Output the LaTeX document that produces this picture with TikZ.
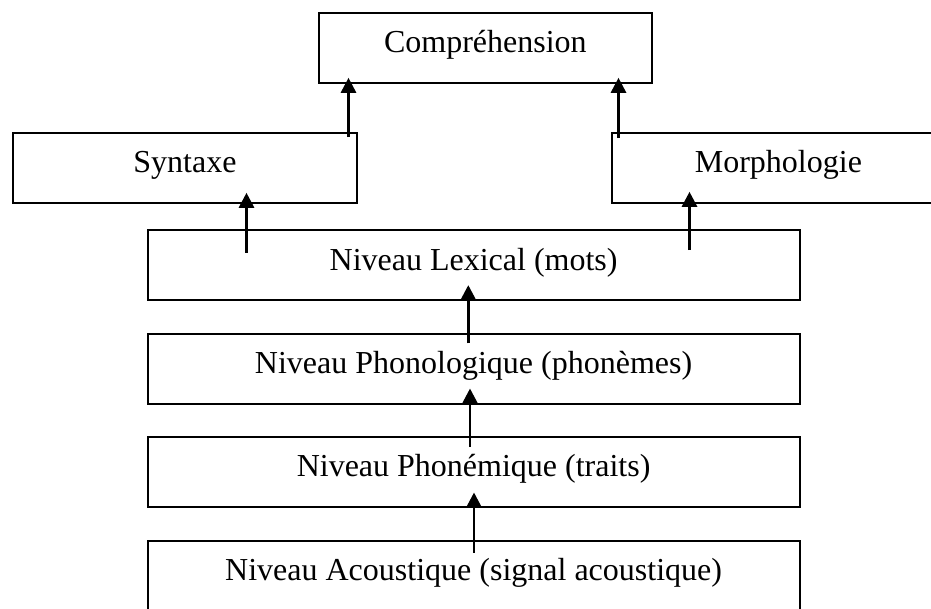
\documentclass[tikz,border=0pt]{standalone}
\usepackage{fontspec}
\setmainfont{Liberation Serif}
\usetikzlibrary{arrows.meta,calc}

\tikzset{
  level/.style={draw, line width=1.8pt, anchor=north west,
    inner xsep=0pt, inner ysep=0pt,
    text height=40pt, text depth=30pt,
    font=\fontsize{32}{38}\selectfont},
  uparrow/.style={line width=2.8pt,
    -{Triangle[width=15pt,length=15pt]}}
}

\begin{document}
\begin{tikzpicture}[x=1pt, y=-1pt]
  \useasboundingbox (0,0) rectangle (931,608);
  \clip (0,0) rectangle (931,608);

  % boxes, top to bottom
  \node[level, minimum width=333pt] (comp)  at (318,12)      {Compréhension};
  \node[level, minimum width=344pt] (syn)   at (12,131.7)    {Syntaxe};
  \node[level, minimum width=333pt] (morph) at (611,131.7)   {Morphologie};
  \node[level, minimum width=652pt] (lex)   at (146.7,229.3) {Niveau Lexical (mots)};
  \node[level, minimum width=652pt] (phon)  at (146.7,332.7) {Niveau Phonologique (phonèmes)};
  \node[level, minimum width=652pt] (phem)  at (146.7,436)   {Niveau Phonémique (traits)};
  \node[level, minimum width=652pt] (acou)  at (146.7,540)   {Niveau Acoustique (signal acoustique)};

  % upward connectors
  \draw[uparrow] ($(syn.north west)+(336.5,5.3)$)   -- ($(comp.south west)+(30.5,-6)$);
  \draw[uparrow] ($(morph.north west)+(7.5,6.3)$)   -- ($(comp.south west)+(300.5,-6)$);
  \draw[uparrow] ($(lex.north west)+(99.8,23.4)$)   -- ($(syn.south west)+(234.5,-10.7)$);
  \draw[uparrow] ($(lex.north west)+(542.8,20.7)$)  -- ($(morph.south west)+(78.5,-11.7)$);
  \draw[uparrow] ($(phon.north west)+(321.6,10.6)$) -- ($(lex.south west)+(321.6,-16)$);
  \draw[uparrow] ($(phem.north west)+(323.3,10.7)$) -- ($(phon.south west)+(323.3,-16)$);
  \draw[uparrow] ($(acou.north west)+(327.3,12.7)$) -- ($(phem.south west)+(327.3,-15.3)$);
\end{tikzpicture}
\end{document}
